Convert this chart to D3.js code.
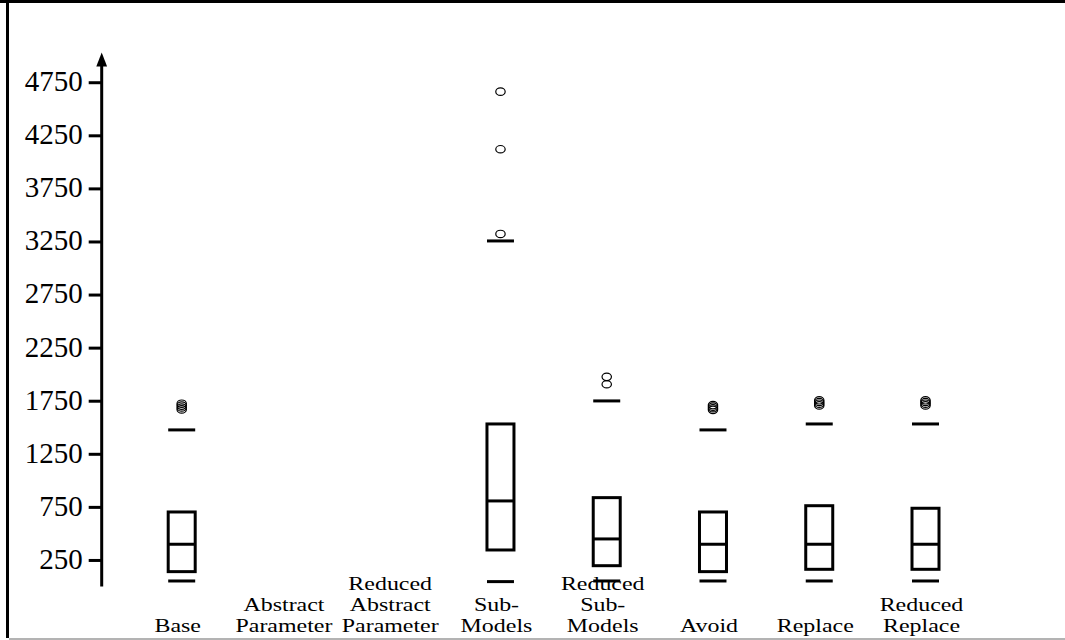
<!DOCTYPE html>
<html>
<head>
<meta charset="utf-8">
<script src="https://cdn.jsdelivr.net/npm/d3@7"></script>
<style>
  html, body { margin: 0; padding: 0; background: #fff; }
  svg { display: block; }
  text { font-family: "Liberation Serif", "Times New Roman", serif; fill: #000; }
</style>
</head>
<body>
<svg id="chart" width="1065" height="640"></svg>
<script>
// Categories, with the multi-line labels shown under each box
const categories = ["Base", "Abstract Parameter", "Reduced Abstract Parameter", "Sub-Models",
                    "Reduced Sub-Models", "Avoid", "Replace", "Reduced Replace"];
const labelLines = [["Base"], ["Abstract", "Parameter"], ["Reduced", "Abstract", "Parameter"],
                    ["Sub-", "Models"], ["Reduced", "Sub-", "Models"], ["Avoid"], ["Replace"],
                    ["Reduced", "Replace"]];

// Five-number summaries (null = no data for that variant)
const lowerWhisker = [52, null, null, 46, 52, 52, 52, 52];
const q1           = [140, null, null, 344, 196, 140, 162, 162];
const median       = [398, null, null, 806, 448, 398, 398, 398];
const q3           = [702, null, null, 1531, 837, 702, 761, 737];
const upperWhisker = [1475, null, null, 3255, 1748, 1475, 1531, 1531];
const outliers     = [[1668, 1686, 1704, 1722], [], [], [3321, 4119, 4661], [1905, 1975],
                      [1664, 1679, 1694, 1709], [1706, 1722, 1738, 1754], [1706, 1722, 1738, 1754]];

const yTicks = [250, 750, 1250, 1750, 2250, 2750, 3250, 3750, 4250, 4750];

const svg = d3.select("#chart");

// Frame
svg.append("rect").attr("x", 0).attr("y", 0).attr("width", 1065).attr("height", 3).attr("fill", "#000");
svg.append("rect").attr("x", 6).attr("y", 0).attr("width", 3).attr("height", 638).attr("fill", "#000");
svg.append("line").attr("x1", 9).attr("x2", 1065).attr("y1", 639).attr("y2", 639)
  .attr("stroke", "#9a9a9a").attr("stroke-width", 1.5);

const x = d3.scalePoint().domain(categories).range([181.7, 925.5]);
const y = d3.scaleLinear().domain([0, 5030]).range([586.5, 52.5]);

const axisX = 101.7;

// Y axis with ticks
const axis = svg.append("g").attr("transform", `translate(${axisX},0)`)
  .call(d3.axisLeft(y).tickValues(yTicks).tickSize(13).tickPadding(6).tickFormat(d3.format("d")))
  .attr("font-family", "'Liberation Serif', serif");
axis.select(".domain").remove();
axis.selectAll(".tick line").attr("stroke", "#000").attr("stroke-width", 3);
axis.selectAll(".tick text").attr("font-size", 29).attr("dy", "0.29em")
  .style("font-family", "'Liberation Serif', serif").attr("fill", "#000");

// Axis line with arrow head
const tip = y(5030);
svg.append("line").attr("x1", axisX).attr("x2", axisX)
  .attr("y1", y(0)).attr("y2", tip + 12)
  .attr("stroke", "#000").attr("stroke-width", 3);
svg.append("path")
  .attr("d", `M${axisX},${tip} L${axisX + 5.4},${tip + 14} L${axisX - 5.4},${tip + 14} Z`)
  .attr("fill", "#000");

// Boxes
const boxW = 27, capW = 27;
const g = svg.append("g");
categories.forEach((c, i) => {
  const cx = x(c);
  if (q1[i] !== null) {
    g.append("rect")
      .attr("x", cx - boxW / 2).attr("y", y(q3[i]))
      .attr("width", boxW).attr("height", y(q1[i]) - y(q3[i]))
      .attr("fill", "none").attr("stroke", "#000").attr("stroke-width", 3);
    g.append("line")
      .attr("x1", cx - boxW / 2).attr("x2", cx + boxW / 2)
      .attr("y1", y(median[i])).attr("y2", y(median[i]))
      .attr("stroke", "#000").attr("stroke-width", 3);
    [lowerWhisker[i], upperWhisker[i]].forEach(v => {
      g.append("line")
        .attr("x1", cx - capW / 2).attr("x2", cx + capW / 2)
        .attr("y1", y(v)).attr("y2", y(v))
        .attr("stroke", "#000").attr("stroke-width", 3);
    });
  }
  // Outliers drawn as small open rings
  outliers[i].forEach(v => {
    g.append("ellipse")
      .attr("cx", cx).attr("cy", y(v))
      .attr("rx", 4.7).attr("ry", 3.7)
      .attr("fill", "none").attr("stroke", "#000").attr("stroke-width", 1.2);
  });
});

// Category labels, bottom aligned
const lastBaseline = 632, lineH = 21;
categories.forEach((c, i) => {
  const lines = labelLines[i];
  lines.forEach((t, k) => {
    const by = lastBaseline - (lines.length - 1 - k) * lineH;
    svg.append("text")
      .attr("transform", `translate(${x(c) - 4},${by}) scale(1.33,1)`)
      .attr("text-anchor", "middle").attr("font-size", 18)
      .text(t);
  });
});
</script>
</body>
</html>
